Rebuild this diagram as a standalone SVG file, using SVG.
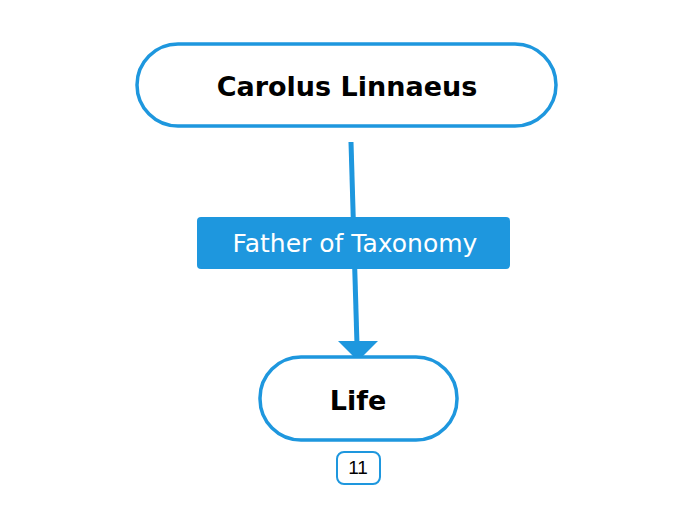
<svg xmlns="http://www.w3.org/2000/svg" width="696" height="520" viewBox="0 0 696 520">
<style>
.node{fill:#fff;stroke:#1e97de;stroke-width:3.5}
.t{font-family:"DejaVu Sans",sans-serif;font-weight:bold;font-size:27px;fill:#000;text-anchor:middle}
</style>
<defs><marker id="a" markerUnits="userSpaceOnUse" markerWidth="40" markerHeight="24" refX="38" refY="12" orient="auto"><path d="M0,0 L38,12 L0,24 Z" fill="#1e97de" transform="scale(0.52,1) translate(35,0)"/></marker></defs>
<rect width="696" height="520" fill="#fff"/>
<g id="connectors">
<line x1="351" y1="142" x2="357" y2="345" stroke="#1e97de" stroke-width="5"/>
<path d="M338,341 L378,341 L358,361 Z" fill="#1e97de"/>
<rect x="197" y="217" width="313" height="52" rx="4" fill="#1e97de"/>
<text x="355" y="252" font-family="DejaVu Sans,sans-serif" font-size="25" fill="#fff" text-anchor="middle">Father of Taxonomy</text>
</g>
<g id="n1"><rect class="node" x="137" y="44" width="419" height="82" rx="41"/><text class="t" x="347" y="96">Carolus Linnaeus</text></g>
<g id="n2"><rect class="node" x="260" y="357" width="197" height="83" rx="41"/><text class="t" x="358" y="410">Life</text>
<rect x="337" y="452" width="43" height="32" rx="7" fill="#fff" stroke="#1e97de" stroke-width="2"/><text x="358" y="474" font-family="Liberation Sans,sans-serif" font-size="19" text-anchor="middle">11</text></g>
</svg>
